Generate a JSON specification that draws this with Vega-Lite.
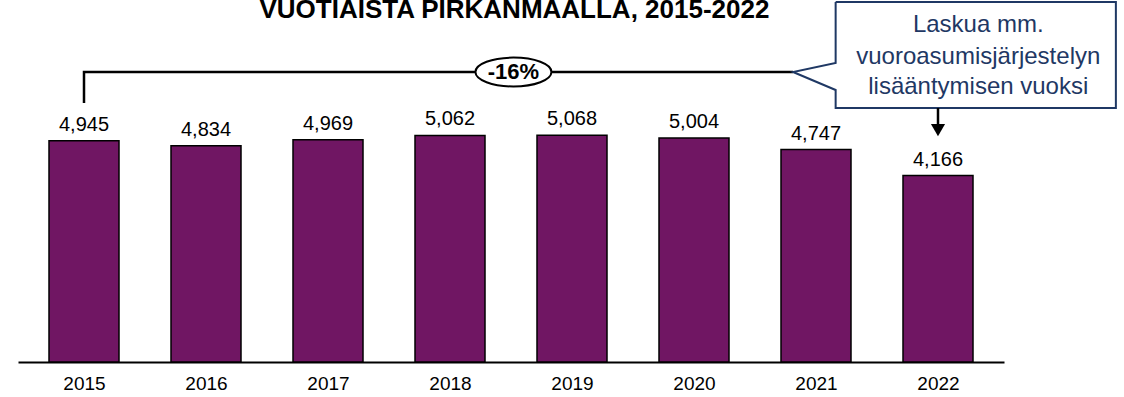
{
  "$schema": "https://vega.github.io/schema/vega-lite/v6.json",
  "width": 986,
  "height": 358,
  "autosize": {"type": "none"},
  "padding": {"left": 18, "top": 4, "right": 120, "bottom": 35},
  "background": "white",
  "config": {
    "view": {"stroke": null},
    "font": "Liberation Sans",
    "axisX": {
      "ticks": false, "grid": false,
      "domainColor": "black", "domainWidth": 2,
      "labelFontSize": 19, "labelColor": "black", "labelPadding": 12,
      "labelFont": "Liberation Sans"
    }
  },
  "datasets": {
    "bars": [
      {"year": 2015, "value": 4945},
      {"year": 2016, "value": 4834},
      {"year": 2017, "value": 4969},
      {"year": 2018, "value": 5062},
      {"year": 2019, "value": 5068},
      {"year": 2020, "value": 5004},
      {"year": 2021, "value": 4747},
      {"year": 2022, "value": 4166}
    ],
    "bracket": [
      {"x": 2015, "y": 5788, "o": 1},
      {"x": 2015, "y": 6480, "o": 2},
      {"x": 2020.812, "y": 6480, "o": 3}
    ],
    "callout": [
      {"x": 2021.161, "y": 8045, "o": 1},
      {"x": 2023.458, "y": 8045, "o": 2},
      {"x": 2023.458, "y": 5676, "o": 3},
      {"x": 2021.161, "y": 5676, "o": 4},
      {"x": 2021.161, "y": 6078, "o": 5},
      {"x": 2020.812, "y": 6480, "o": 6},
      {"x": 2021.161, "y": 6682, "o": 7},
      {"x": 2021.161, "y": 8045, "o": 8}
    ],
    "calloutText": [
      {"x": 2022.33, "y": 7531, "t": "Laskua mm."},
      {"x": 2022.33, "y": 6816, "t": "vuoroasumisjärjestelyn"},
      {"x": 2022.33, "y": 6145, "t": "lisääntymisen vuoksi"}
    ]
  },
  "layer": [
    {
      "data": {"name": "bars"},
      "mark": {"type": "bar", "width": 70, "fill": "#701663", "stroke": "black", "strokeWidth": 1.5},
      "encoding": {
        "x": {
          "field": "year", "type": "quantitative", "title": null,
          "scale": {"domain": [2014.5, 2022.5], "nice": false, "zero": false},
          "axis": {
            "values": [2015, 2016, 2017, 2018, 2019, 2020, 2021, 2022],
            "format": "d", "title": null, "labelFontSize": 19
          }
        },
        "y": {
          "field": "value", "type": "quantitative",
          "scale": {"domain": [0, 8000], "nice": false},
          "axis": null
        }
      }
    },
    {
      "data": {"name": "bars"},
      "mark": {"type": "text", "fontSize": 20, "color": "black", "baseline": "alphabetic", "dy": -10},
      "encoding": {
        "x": {"field": "year", "type": "quantitative", "title": null},
        "y": {"field": "value", "type": "quantitative", "axis": null},
        "text": {"field": "value", "type": "quantitative", "format": ","}
      }
    },
    {
      "data": {"name": "bracket"},
      "mark": {"type": "line", "color": "black", "strokeWidth": 2.5},
      "encoding": {
        "x": {"field": "x", "type": "quantitative", "title": null},
        "y": {"field": "y", "type": "quantitative", "axis": null},
        "order": {"field": "o", "type": "quantitative"}
      }
    },
    {
      "data": {"name": "callout"},
      "mark": {"type": "line", "color": "#1F3864", "strokeWidth": 2},
      "encoding": {
        "x": {"field": "x", "type": "quantitative", "title": null},
        "y": {"field": "y", "type": "quantitative", "axis": null},
        "order": {"field": "o", "type": "quantitative"}
      }
    },
    {
      "data": {"values": [{"x": 2022, "y": 5676, "y2": 5250}]},
      "mark": {"type": "rule", "color": "black", "strokeWidth": 2.5},
      "encoding": {
        "x": {"field": "x", "type": "quantitative", "title": null},
        "y": {"field": "y", "type": "quantitative", "axis": null},
        "y2": {"field": "y2"}
      }
    },
    {
      "data": {"values": [{"x": 2022, "y": 5184}]},
      "mark": {"type": "point", "shape": "triangle-down", "filled": true, "color": "black", "size": 200, "opacity": 1},
      "encoding": {
        "x": {"field": "x", "type": "quantitative", "title": null},
        "y": {"field": "y", "type": "quantitative", "axis": null}
      }
    },
    {
      "data": {"values": [{"x": 2018.52, "y": 6480}]},
      "mark": {"type": "point", "shape": "M-1,0A1,0.38 0 1,0 1,0A1,0.38 0 1,0 -1,0Z", "filled": true, "fill": "white", "stroke": "black", "strokeWidth": 2, "size": 5776, "opacity": 1},
      "encoding": {
        "x": {"field": "x", "type": "quantitative", "title": null},
        "y": {"field": "y", "type": "quantitative", "axis": null}
      }
    },
    {
      "data": {"values": [{"x": 2018.52, "y": 6480, "t": "-16%"}]},
      "mark": {"type": "text", "fontSize": 22, "fontWeight": "bold", "color": "black", "baseline": "middle"},
      "encoding": {
        "x": {"field": "x", "type": "quantitative", "title": null},
        "y": {"field": "y", "type": "quantitative", "axis": null},
        "text": {"field": "t"}
      }
    },
    {
      "data": {"values": [{"x": 2018.528, "y": 7687, "t": "VUOTIAISTA PIRKANMAALLA,  2015-2022"}]},
      "mark": {"type": "text", "fontSize": 26, "fontWeight": "bold", "color": "black", "baseline": "alphabetic"},
      "encoding": {
        "x": {"field": "x", "type": "quantitative", "title": null},
        "y": {"field": "y", "type": "quantitative", "axis": null},
        "text": {"field": "t"}
      }
    },
    {
      "data": {"name": "calloutText"},
      "mark": {"type": "text", "fontSize": 24, "color": "#1F3864", "baseline": "middle"},
      "encoding": {
        "x": {"field": "x", "type": "quantitative", "title": null},
        "y": {"field": "y", "type": "quantitative", "axis": null},
        "text": {"field": "t"}
      }
    }
  ]
}
